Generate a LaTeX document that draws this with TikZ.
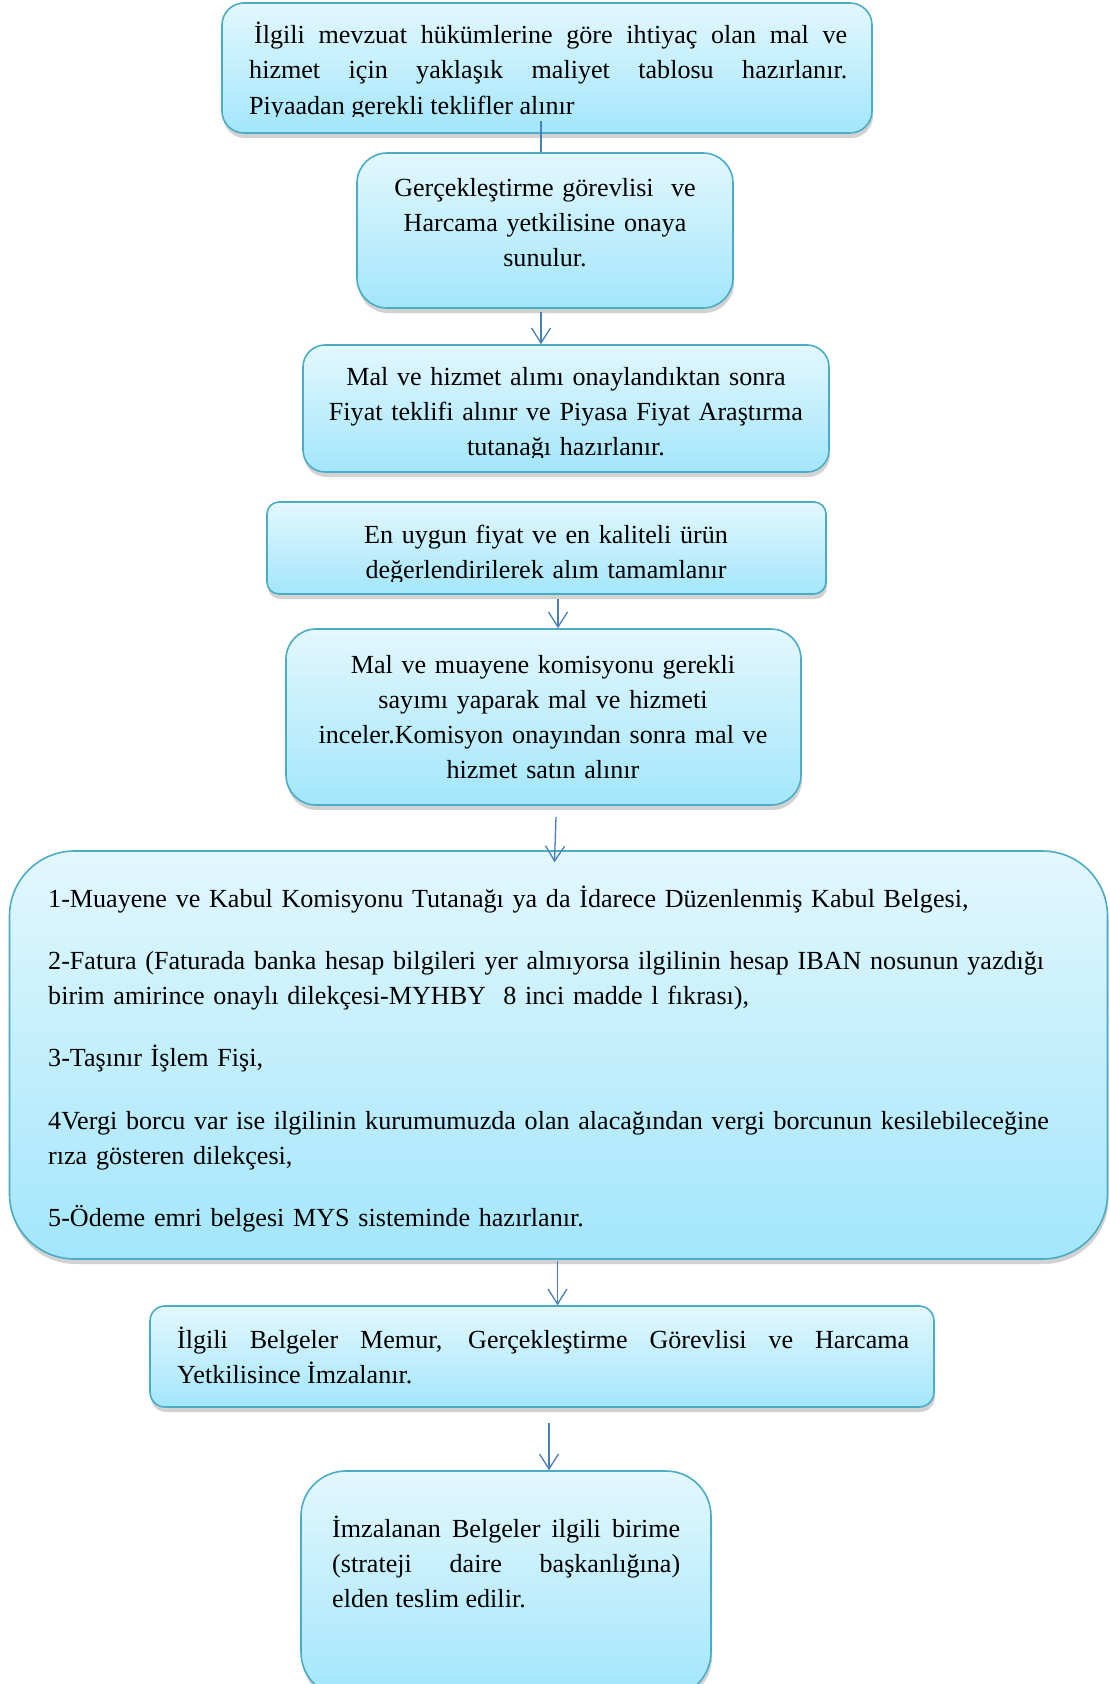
\documentclass[tikz,border=0pt]{standalone}
\usepackage{fontspec}
\setmainfont{Liberation Serif}
\usetikzlibrary{arrows.meta,shadows,calc}
\definecolor{boxtop}{HTML}{E3F7FE}
\definecolor{boxbot}{HTML}{A3E6FB}
\definecolor{boxline}{HTML}{4BACC6}
\definecolor{arrowc}{HTML}{4A7EBB}
\tikzset{
  box/.style={draw=boxline, line width=1.6pt, top color=boxtop, bottom color=boxbot,
    drop shadow={shadow xshift=1pt, shadow yshift=-5pt, opacity=0.25, fill=black!70},
    inner sep=0pt},
  txt/.style={inner sep=0pt, font={\fontsize{26.1}{35.3}\selectfont}},
  arr/.style={draw=arrowc, line width=1.3pt, -{Straight Barb[length=15pt,width=19pt]}},
  link/.style={draw=arrowc, line width=1.3pt},
}
\begin{document}
\begin{tikzpicture}[x=1pt,y=-1pt]
\fill[white] (0,0) rectangle (1110,1684);
\useasboundingbox (0,0) rectangle (1110,1684);

% boxes
\node[box, rounded corners=22pt, minimum width=650pt, minimum height=130pt] (b1) at (547,68) {};
\node[box, rounded corners=30pt, minimum width=376pt, minimum height=155pt] (b2) at (545,230.5) {};
\node[box, rounded corners=22pt, minimum width=526pt, minimum height=127pt] (b3) at (566,408.5) {};
\node[box, rounded corners=12pt, minimum width=559pt, minimum height=92pt] (b4) at (546.5,548) {};
\node[box, rounded corners=30pt, minimum width=515pt, minimum height=176pt] (b5) at (543.5,717) {};
\node[box, rounded corners=65pt, minimum width=1098pt, minimum height=408pt] (b6) at (558.5,1055) {};
\node[box, rounded corners=15pt, minimum width=784pt, minimum height=101pt] (b7) at (542,1356.5) {};
\node[box, rounded corners=45pt, minimum width=410pt, minimum height=226pt] (b8) at (506,1584) {};

% texts
\begin{scope}
\clip (222,0) rectangle (872,116);
\node[txt, text width=598pt, align=justify, anchor=base west] (t1) at (249,43.5)
  {\hspace*{5pt}İlgili mevzuat hükümlerine göre ihtiyaç olan mal ve\linebreak hizmet için yaklaşık maliyet tablosu hazırlanır.\linebreak Piyaadan gerekli teklifler alınır};
\end{scope}
\node[txt, text width=360pt, align=center, anchor=base] (t2) at (545,196)
  {Gerçekleştirme görevlisi\ \ ve\\ Harcama yetkilisine onaya\\ sunulur.};
\begin{scope}
\clip (303,345) rectangle (829,457);
\node[txt, text width=510pt, align=center, anchor=base] (t3) at (566,385)
  {Mal ve hizmet alımı onaylandıktan sonra\\ Fiyat teklifi alınır ve Piyasa Fiyat Araştırma\\ tutanağı hazırlanır.};
\end{scope}
\begin{scope}
\clip (267,502) rectangle (826,581);
\node[txt, text width=540pt, align=center, anchor=base] (t4) at (546,543.5)
  {En uygun fiyat ve en kaliteli ürün\\ değerlendirilerek alım tamamlanır};
\end{scope}
\node[txt, text width=490pt, align=center, anchor=base] (t5) at (543,673)
  {Mal ve muayene komisyonu gerekli\\ sayımı yaparak mal ve hizmeti\\ inceler.Komisyon onayından sonra mal ve\\ hizmet satın alınır};
\node[txt, text width=1040pt, align=left, anchor=base west] (t6) at (48,907)
  {1-Muayene ve Kabul Komisyonu Tutanağı ya da İdarece Düzenlenmiş Kabul Belgesi,\\[27pt]
   2-Fatura (Faturada banka hesap bilgileri yer almıyorsa ilgilinin hesap IBAN nosunun yazdığı\\
   birim amirince onaylı dilekçesi-MYHBY\ \ 8 inci madde l fıkrası),\\[27pt]
   3-Taşınır İşlem Fişi,\\[27pt]
   4Vergi borcu var ise ilgilinin kurumumuzda olan alacağından vergi borcunun kesilebileceğine\\
   rıza gösteren dilekçesi,\\[27pt]
   5-Ödeme emri belgesi MYS sisteminde hazırlanır.};
\node[txt, text width=732pt, align=justify, anchor=base west] (t7) at (177,1348)
  {İlgili Belgeler Memur, Gerçekleştirme Görevlisi ve Harcama\linebreak Yetkilisince İmzalanır.};
\node[txt, text width=348pt, align=justify, anchor=base west] (t8) at (332,1537)
  {İmzalanan Belgeler ilgili birime\linebreak (strateji daire başkanlığına)\linebreak elden teslim edilir.};

% connectors
\draw[link] ([xshift=-6pt,yshift=13pt]b1.south) -- ([xshift=-4pt]b2.north);
\draw[arr] ([xshift=-4pt,yshift=-3pt]b2.south) -- ([xshift=-4pt]b2.south |- b3.north);
\draw[arr] ([xshift=11.5pt,yshift=-4pt]b4.south) -- ([xshift=11.5pt]b4.south |- b5.north);
\draw[arr] ([xshift=12.5pt,yshift=-11pt]b5.south) -- ([xshift=-4pt,yshift=-12pt]b6.north);
\draw[arr] ([xshift=-1pt,yshift=-1pt]b6.south) -- ([xshift=-1pt]b6.south |- b7.north);
\draw[arr] ([xshift=7pt,yshift=-15pt]b7.south) -- ([xshift=7pt]b7.south |- b8.north);
\end{tikzpicture}
\end{document}
